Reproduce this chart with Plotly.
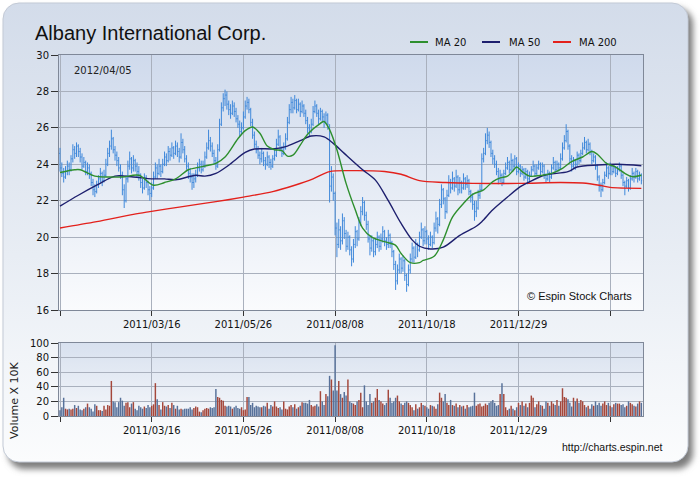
import base64
import plotly.graph_objects as go

# ---------------- data ----------------
title_text = "Albany International Corp."
date_label = "2012/04/05"
tick_days = [0, 50, 100, 150, 200, 250, 300]
tick_labels = ["", "2011/03/16", "2011/05/26", "2011/08/08", "2011/10/18", "2011/12/29", ""]

open_ = [
    24.6, 23.8, 23.5, 23.3, 23.6, 23.9, 23.7, 24.3, 24.8, 24.6,
    25.0, 24.7, 24.4, 23.9, 24.1, 23.6, 23.8, 23.5, 23.0, 22.6,
    22.5, 22.9, 23.2, 23.5, 23.1, 23.4, 24.0, 24.6, 25.0, 25.4,
    24.8, 24.5, 24.2, 23.8, 23.4, 22.6, 22.0, 23.2, 23.9, 24.3,
    23.8, 24.2, 23.9, 23.6, 23.4, 23.0, 22.7, 23.2, 23.0, 22.6,
    22.4, 22.7, 23.3, 23.8, 23.5, 23.9, 23.6, 24.0, 24.4, 24.2,
    24.7, 24.5, 24.9, 24.6, 25.0, 24.7, 24.4, 25.2, 24.8, 24.3,
    23.9, 23.5, 23.3, 23.0, 23.2, 23.4, 23.8, 24.0, 23.7, 23.9,
    24.4, 24.9, 25.3, 25.0, 24.6, 24.2, 23.9, 24.8, 26.2, 27.1,
    27.6, 27.8, 27.3, 27.0, 26.8, 27.2, 26.9, 26.5, 26.2, 25.8,
    26.0, 26.6, 27.2, 27.4, 27.0, 26.3, 25.6, 25.1, 24.8, 24.5,
    24.3, 24.6, 24.2, 24.0, 24.4, 24.1, 23.9, 24.3, 24.5, 25.1,
    25.5, 24.9, 24.6, 24.9, 25.4, 26.3, 27.0, 27.4, 27.1, 27.5,
    27.0, 27.3, 26.9, 27.2, 26.8, 26.4, 26.0, 25.8, 26.2, 26.9,
    27.2, 26.8, 26.5, 26.9, 26.6, 26.3, 26.7, 26.0, 22.8, 23.3,
    22.4, 20.5, 19.6, 20.4, 19.8, 20.9, 20.2, 19.5, 20.0, 19.3,
    18.8, 19.6, 20.3, 19.9, 20.8, 21.4, 21.9, 21.2, 20.7, 19.9,
    19.4, 19.8, 19.2, 19.6, 20.0, 19.5, 19.9, 20.3, 19.8, 19.6,
    20.1, 19.7, 19.2, 18.5, 17.6, 18.2, 18.8, 18.3, 18.7, 17.9,
    17.4, 18.2, 18.8, 19.4, 18.9, 19.6, 19.3, 20.0, 20.4, 19.8,
    20.3, 19.9, 19.6, 20.0, 19.7, 20.5, 21.0, 20.7, 21.8, 22.6,
    22.1, 21.4, 22.3, 23.0, 22.7, 23.2, 22.8, 23.3, 22.6, 23.0,
    22.7, 23.2, 22.9, 23.1, 22.5, 22.2, 21.8, 21.4, 21.6, 22.3,
    22.6, 24.3, 24.6, 25.3, 25.6, 25.2, 24.6, 24.3, 24.0, 23.6,
    23.2, 23.4, 23.0, 23.5, 23.8, 24.1, 23.7, 24.2, 23.9, 24.3,
    23.6, 23.9, 23.5, 23.7, 23.3, 23.6, 23.2, 23.4, 23.7, 23.9,
    23.5, 23.8, 24.0, 23.6, 23.9, 23.4, 23.2, 23.5, 23.3, 23.8,
    24.1, 23.7, 24.0, 23.8, 24.3, 24.9, 25.3, 25.8, 25.0, 24.3,
    23.9, 24.2, 24.0, 24.5, 24.2, 24.6, 24.9, 25.2, 24.8, 25.1,
    24.7, 24.2, 24.4, 23.9, 23.3, 22.8, 22.6, 23.0, 23.4, 23.8,
    23.5, 23.9, 23.6, 23.8, 23.5, 23.7, 23.9, 23.4, 23.0, 22.8,
    23.1, 22.7, 23.2, 23.5, 23.3, 23.6, 23.2, 23.4,
]
high = [
    24.9, 24.1, 23.8, 23.9, 24.2, 24.1, 24.5, 25.1, 25.0, 25.2,
    25.1, 24.9, 24.6, 24.4, 24.2, 24.1, 24.0, 23.6, 23.2, 22.9,
    23.1, 23.4, 23.8, 23.6, 23.7, 24.3, 24.9, 25.3, 25.9, 25.5,
    25.0, 24.7, 24.4, 24.0, 23.6, 22.9, 23.4, 24.2, 24.7, 24.4,
    24.5, 24.3, 24.1, 23.9, 23.5, 23.2, 23.5, 23.4, 23.1, 22.8,
    23.0, 23.6, 24.1, 24.0, 24.3, 24.0, 24.3, 24.7, 24.6, 25.0,
    24.9, 25.2, 25.0, 25.3, 25.2, 24.9, 25.7, 25.4, 25.0, 24.5,
    24.1, 23.8, 23.5, 23.5, 23.7, 24.1, 24.3, 24.2, 24.2, 24.7,
    25.2, 25.9, 25.5, 25.2, 24.8, 24.4, 25.1, 26.5, 27.4, 27.9,
    28.1, 28.0, 27.5, 27.3, 27.5, 27.4, 27.1, 26.7, 26.4, 26.3,
    26.9, 27.5, 27.7, 27.6, 27.1, 26.5, 25.8, 25.3, 25.0, 24.7,
    24.9, 24.7, 24.4, 24.7, 24.5, 24.3, 24.5, 24.8, 25.4, 25.9,
    25.6, 25.0, 25.2, 25.7, 26.6, 27.3, 27.7, 27.6, 27.8, 27.6,
    27.6, 27.4, 27.5, 27.3, 27.0, 26.6, 26.2, 26.5, 27.2, 27.5,
    27.3, 27.0, 27.1, 27.0, 26.8, 26.9, 26.8, 26.2, 23.9, 23.5,
    22.5, 20.8, 21.0, 20.6, 21.3, 21.1, 20.4, 20.3, 20.1, 19.5,
    19.9, 20.6, 20.4, 21.1, 21.7, 22.2, 22.0, 21.4, 20.9, 20.1,
    20.1, 19.9, 19.9, 20.3, 20.1, 20.2, 20.6, 20.4, 20.0, 20.4,
    20.2, 19.8, 19.3, 18.7, 18.5, 19.1, 18.9, 19.0, 18.8, 18.0,
    18.5, 19.1, 19.7, 19.5, 19.9, 19.7, 20.3, 20.8, 20.5, 20.6,
    20.4, 20.1, 20.3, 20.1, 20.8, 21.4, 21.1, 22.1, 22.9, 22.7,
    22.2, 22.6, 23.4, 23.2, 23.6, 23.3, 23.7, 23.4, 23.3, 23.1,
    23.5, 23.3, 23.4, 23.2, 22.6, 22.4, 22.0, 22.0, 22.6, 22.9,
    24.6, 24.9, 25.7, 26.0, 25.8, 25.3, 24.8, 24.5, 24.2, 23.8,
    23.7, 23.5, 23.7, 24.1, 24.4, 24.2, 24.6, 24.3, 24.5, 24.4,
    24.1, 24.0, 23.9, 23.8, 23.8, 23.7, 23.6, 23.9, 24.2, 24.0,
    24.0, 24.2, 24.1, 24.1, 24.0, 23.5, 23.7, 23.6, 24.0, 24.4,
    24.2, 24.2, 24.1, 24.6, 25.2, 25.6, 26.2, 25.9, 25.1, 24.5,
    24.4, 24.3, 24.7, 24.6, 24.8, 25.2, 25.5, 25.3, 25.4, 25.2,
    24.8, 24.6, 24.5, 24.0, 23.4, 23.0, 23.2, 23.6, 24.1, 23.9,
    24.1, 24.0, 24.0, 23.9, 23.9, 24.1, 24.0, 23.5, 23.1, 23.3,
    23.2, 23.4, 23.8, 23.6, 23.8, 23.7, 23.6, 23.5,
]
low = [
    23.6, 23.3, 23.0, 23.2, 23.4, 23.4, 23.6, 24.1, 24.3, 24.4,
    24.4, 24.1, 23.7, 23.8, 23.4, 23.4, 23.2, 22.8, 22.3, 22.2,
    22.4, 22.7, 23.0, 22.8, 23.0, 23.3, 23.9, 24.4, 24.8, 24.6,
    24.2, 23.9, 23.6, 23.2, 22.3, 21.6, 21.9, 23.0, 23.7, 23.5,
    23.6, 23.6, 23.3, 23.1, 22.7, 22.4, 22.6, 22.7, 22.3, 22.0,
    22.2, 22.6, 23.2, 23.2, 23.4, 23.3, 23.5, 23.9, 23.9, 24.1,
    24.2, 24.4, 24.3, 24.5, 24.4, 24.1, 24.3, 24.6, 24.1, 23.7,
    23.2, 23.0, 22.6, 22.7, 23.0, 23.3, 23.6, 23.5, 23.6, 23.8,
    24.3, 24.8, 24.7, 24.4, 24.0, 23.7, 23.8, 24.7, 26.1, 26.9,
    27.2, 27.0, 26.7, 26.5, 26.7, 26.6, 26.3, 26.0, 25.5, 25.6,
    25.9, 26.5, 27.0, 26.8, 26.1, 25.4, 24.9, 24.6, 24.3, 24.0,
    24.1, 23.9, 23.7, 23.9, 23.8, 23.7, 23.8, 24.2, 24.4, 25.0,
    24.7, 24.4, 24.5, 24.8, 25.3, 26.2, 26.8, 26.8, 27.0, 26.8,
    26.9, 26.6, 26.8, 26.6, 26.2, 25.7, 25.5, 25.7, 26.1, 26.8,
    26.6, 26.2, 26.4, 26.3, 26.0, 26.2, 25.9, 21.9, 22.5, 22.0,
    20.1, 18.9, 19.4, 19.3, 19.6, 19.9, 19.2, 19.3, 19.0, 18.4,
    18.6, 19.4, 19.5, 19.8, 20.6, 21.2, 20.9, 20.4, 19.7, 19.0,
    19.2, 18.9, 19.0, 19.4, 19.2, 19.3, 19.7, 19.5, 19.3, 19.4,
    19.4, 18.9, 18.2, 17.1, 17.4, 18.0, 18.0, 18.1, 17.6, 17.0,
    17.3, 18.0, 18.6, 18.6, 18.8, 18.9, 19.2, 19.9, 19.5, 19.6,
    19.6, 19.3, 19.5, 19.4, 19.6, 20.3, 20.2, 20.6, 21.6, 21.8,
    21.0, 21.3, 22.2, 22.4, 22.6, 22.5, 22.7, 22.3, 22.4, 22.4,
    22.6, 22.6, 22.7, 22.3, 21.9, 21.5, 20.9, 21.1, 21.5, 22.1,
    22.5, 24.1, 24.5, 25.1, 24.9, 24.4, 24.0, 23.8, 23.4, 22.9,
    23.0, 22.8, 22.9, 23.4, 23.7, 23.5, 23.6, 23.6, 23.8, 23.4,
    23.5, 23.3, 23.4, 23.1, 23.2, 22.9, 23.0, 23.3, 23.6, 23.3,
    23.4, 23.7, 23.4, 23.5, 23.2, 23.0, 23.1, 23.0, 23.2, 23.7,
    23.5, 23.6, 23.6, 23.7, 24.2, 24.8, 25.2, 24.8, 24.1, 23.6,
    23.8, 23.7, 23.9, 24.0, 24.1, 24.5, 24.8, 24.6, 24.7, 24.5,
    24.0, 24.1, 23.7, 23.1, 22.5, 22.2, 22.5, 22.9, 23.3, 23.2,
    23.4, 23.4, 23.5, 23.3, 23.4, 23.6, 23.2, 22.8, 22.3, 22.7,
    22.5, 22.6, 23.1, 23.0, 23.2, 23.0, 23.1, 22.9,
]
close = [
    23.8, 23.5, 23.3, 23.6, 23.9, 23.7, 24.3, 24.8, 24.6, 25.0,
    24.7, 24.4, 23.9, 24.1, 23.6, 23.8, 23.5, 23.0, 22.6, 22.5,
    22.9, 23.2, 23.5, 23.1, 23.4, 24.0, 24.6, 25.0, 25.4, 24.8,
    24.5, 24.2, 23.8, 23.4, 22.6, 22.0, 23.2, 23.9, 24.3, 23.8,
    24.2, 23.9, 23.6, 23.4, 23.0, 22.7, 23.2, 23.0, 22.6, 22.4,
    22.7, 23.3, 23.8, 23.5, 23.9, 23.6, 24.0, 24.4, 24.2, 24.7,
    24.5, 24.9, 24.6, 25.0, 24.7, 24.4, 25.2, 24.8, 24.3, 23.9,
    23.5, 23.3, 23.0, 23.2, 23.4, 23.8, 24.0, 23.7, 23.9, 24.4,
    24.9, 25.3, 25.0, 24.6, 24.2, 23.9, 24.8, 26.2, 27.1, 27.6,
    27.8, 27.3, 27.0, 26.8, 27.2, 26.9, 26.5, 26.2, 25.8, 26.0,
    26.6, 27.2, 27.4, 27.0, 26.3, 25.6, 25.1, 24.8, 24.5, 24.3,
    24.6, 24.2, 24.0, 24.4, 24.1, 23.9, 24.3, 24.5, 25.1, 25.5,
    24.9, 24.6, 24.9, 25.4, 26.3, 27.0, 27.4, 27.1, 27.5, 27.0,
    27.3, 26.9, 27.2, 26.8, 26.4, 26.0, 25.8, 26.2, 26.9, 27.2,
    26.8, 26.5, 26.9, 26.6, 26.3, 26.7, 26.2, 22.8, 23.3, 22.4,
    20.5, 19.6, 20.4, 19.8, 20.9, 20.2, 19.5, 20.0, 19.3, 18.8,
    19.6, 20.3, 19.9, 20.8, 21.4, 21.9, 21.2, 20.7, 19.9, 19.4,
    19.8, 19.2, 19.6, 20.0, 19.5, 19.9, 20.3, 19.8, 19.6, 20.1,
    19.7, 19.2, 18.5, 17.6, 18.2, 18.8, 18.3, 18.7, 17.9, 17.4,
    18.2, 18.8, 19.4, 18.9, 19.6, 19.3, 20.0, 20.4, 19.8, 20.3,
    19.9, 19.6, 20.0, 19.7, 20.5, 21.0, 20.7, 21.8, 22.6, 22.1,
    21.4, 22.3, 23.0, 22.7, 23.2, 22.8, 23.3, 22.6, 23.0, 22.7,
    23.2, 22.9, 23.1, 22.5, 22.2, 21.8, 21.4, 21.6, 22.3, 22.6,
    24.3, 24.6, 25.3, 25.6, 25.2, 24.6, 24.3, 24.0, 23.6, 23.2,
    23.4, 23.0, 23.5, 23.8, 24.1, 23.7, 24.2, 23.9, 24.3, 23.6,
    23.9, 23.5, 23.7, 23.3, 23.6, 23.2, 23.4, 23.7, 23.9, 23.5,
    23.8, 24.0, 23.6, 23.9, 23.4, 23.2, 23.5, 23.3, 23.8, 24.1,
    23.7, 24.0, 23.8, 24.3, 24.9, 25.3, 25.8, 25.0, 24.3, 23.9,
    24.2, 24.0, 24.5, 24.2, 24.6, 24.9, 25.2, 24.8, 25.1, 24.7,
    24.2, 24.4, 23.9, 23.3, 22.8, 22.6, 23.0, 23.4, 23.8, 23.5,
    23.9, 23.6, 23.8, 23.5, 23.7, 23.9, 23.4, 23.0, 22.8, 23.1,
    22.7, 23.2, 23.5, 23.3, 23.6, 23.2, 23.4, 23.1,
]
volume = [  # x 10K shares
    8, 12, 25, 10, 9, 10, 9, 10, 15, 11,
    14, 9, 8, 10, 12, 17, 12, 10, 6, 16,
    14, 8, 8, 7, 14, 9, 15, 14, 48, 20,
    19, 12, 19, 25, 21, 14, 18, 19, 12, 17,
    19, 10, 8, 14, 12, 10, 13, 11, 15, 12,
    14, 16, 45, 23, 15, 9, 19, 14, 13, 15,
    11, 18, 15, 10, 14, 9, 10, 9, 10, 10,
    10, 12, 9, 11, 13, 12, 6, 5, 8, 10,
    11, 10, 12, 11, 12, 37, 26, 25, 22, 21,
    14, 13, 14, 13, 10, 12, 14, 11, 10, 12,
    8, 9, 26, 26, 15, 18, 12, 14, 13, 12,
    12, 14, 13, 18, 10, 15, 13, 20, 13, 11,
    12, 9, 20, 10, 9, 13, 15, 12, 16, 10,
    12, 14, 19, 18, 18, 17, 22, 15, 13, 14,
    16, 13, 34, 20, 15, 30, 27, 55, 50, 35,
    97, 35, 48, 30, 25, 33, 28, 50, 20, 18,
    17, 15, 20, 22, 32, 12, 42, 20, 15, 30,
    18, 20, 25, 37, 22, 20, 17, 15, 18, 36,
    25, 18, 20, 25, 28, 20, 17, 15, 18, 20,
    18, 15, 12, 8, 16, 10, 12, 18, 15, 14,
    12, 10, 15, 14, 13, 10, 16, 32, 25, 20,
    30, 18, 15, 22, 15, 14, 17, 12, 15, 13,
    14, 10, 15, 12, 13, 14, 32, 14, 16, 17,
    13, 14, 17, 15, 18, 20, 22, 18, 14, 15,
    30, 45, 30, 12, 8, 10, 14, 10, 8, 12,
    18, 15, 20, 14, 17, 12, 18, 28, 25, 12,
    16, 20, 15, 14, 10, 20, 18, 14, 20, 17,
    15, 22, 14, 20, 38, 26, 25, 23, 18, 13,
    25, 20, 24, 18, 22, 20, 15, 12, 14, 10,
    16, 14, 20, 15, 18, 14, 17, 20, 15, 18,
    14, 12, 16, 18, 17, 17, 15, 16, 12, 14,
    20, 18, 16, 14, 13, 17, 20, 18,
]

# moving averages (trading-day index, value)
ma20_day = [0, 8, 11, 19, 27, 34, 43, 51, 57, 63, 70, 74, 81, 85, 90, 97, 101, 105,
            109, 113, 117, 121, 124, 127, 131, 135, 142, 144, 147, 151, 156, 161, 165,
            170, 177, 183, 186, 191, 196, 198, 204, 209, 214, 220, 225, 231, 236, 240,
            244, 247, 249, 252, 256, 263, 268, 274, 279, 285, 290, 293, 298, 303, 308,
            312, 317]
ma20 = [23.55, 23.7, 23.7, 23.35, 23.3, 23.3, 23.4, 22.85, 23.0, 23.2, 23.7, 23.8,
        23.95, 24.05, 24.4, 25.4, 25.85, 26.05, 25.7, 25.0, 24.8, 24.75, 24.45, 24.5,
        25.05, 25.65, 26.25, 26.35, 25.9, 24.8, 22.95, 21.5, 20.5, 20.0, 19.75, 19.55,
        19.1, 18.6, 18.6, 18.72, 18.95, 19.85, 21.1, 21.85, 22.35, 22.6, 23.05, 23.25,
        23.35, 23.65, 23.85, 23.6, 23.35, 23.4, 23.5, 23.78, 24.15, 24.4, 24.7, 24.55,
        24.05, 23.85, 23.5, 23.32, 23.4]
ma50_day = [0, 10, 20, 30, 40, 50, 57, 63, 74, 79, 85, 92, 101, 106, 117, 124, 131,
            137, 144, 149, 155, 165, 172, 179, 186, 192, 196, 202, 209, 218, 227, 230,
            236, 244, 251, 256, 264, 277, 282, 293, 304, 317]
ma50 = [21.7, 22.3, 22.85, 23.35, 23.3, 23.2, 23.2, 23.15, 23.4, 23.35, 23.5, 23.95,
        24.65, 24.84, 24.85, 25.0, 25.3, 25.55, 25.5, 25.15, 24.6, 23.7, 23.13, 22.0,
        20.75, 19.85, 19.5, 19.35, 19.45, 20.1, 20.6, 20.85, 21.5, 22.2, 22.77, 23.04,
        23.4, 23.6, 23.85, 23.96, 24.0, 23.92]
ma200_day = [0, 20, 40, 49, 65, 85, 100, 116, 128, 138, 147, 160, 177, 186, 196, 210,
             225, 250, 273, 285, 294, 300, 317]
ma200 = [20.5, 20.85, 21.25, 21.4, 21.65, 21.95, 22.2, 22.5, 22.85, 23.2, 23.6, 23.65,
         23.6, 23.45, 23.1, 23.0, 22.95, 22.95, 23.0, 22.97, 22.85, 22.73, 22.68]

# ---------------- figure ----------------
W, H = 700, 480
n = min(len(open_), len(high), len(low), len(close), len(volume))
days = list(range(n))

BAR = "#3f88da"
VOL_UP = "#a4473b"
VOL_DN = "#57719a"
vol_colors = [VOL_UP if close[i] >= open_[i] else VOL_DN for i in days]

def px_x(x):
    return x / W

def px_y(y):
    return 1 - y / H

PL, PR = 59, 643          # plot left / right (px)
MT, MB = 55, 310          # price plot top / bottom
VT, VB = 343, 416         # volume plot top / bottom

bg_svg = f"""<svg xmlns='http://www.w3.org/2000/svg' width='{W}' height='{H}' viewBox='0 0 {W} {H}'>
<defs>
<linearGradient id='pg' x1='0' y1='0' x2='0' y2='1'>
<stop offset='0' stop-color='#d3dcea'/><stop offset='0.55' stop-color='#e8edf4'/><stop offset='1' stop-color='#fbfcfd'/>
</linearGradient>
<linearGradient id='ag' x1='0' y1='0' x2='0' y2='1'>
<stop offset='0' stop-color='#cfdaec'/><stop offset='1' stop-color='#fafbfd'/>
</linearGradient>
<linearGradient id='vg' x1='0' y1='0' x2='0' y2='1'>
<stop offset='0' stop-color='#d8e1ef'/><stop offset='1' stop-color='#f4f6fa'/>
</linearGradient>
<filter id='sh' x='-5%' y='-5%' width='110%' height='110%'><feGaussianBlur stdDeviation='3'/></filter>
</defs>
<rect x='8' y='8' width='685' height='461' rx='16' fill='#7d7d7d' filter='url(#sh)'/>
<rect x='3' y='3' width='685' height='459' rx='16' fill='url(#pg)' stroke='#c3cad6' stroke-width='1'/>
<rect x='{PL}' y='{MT}' width='{PR-PL}' height='{MB-MT}' fill='url(#ag)'/>
<rect x='{PL}' y='{VT}' width='{PR-PL}' height='{VB-VT}' fill='url(#vg)'/>
</svg>"""
bg_uri = "data:image/svg+xml;base64," + base64.b64encode(bg_svg.encode()).decode()

fig = go.Figure()

fig.add_trace(go.Ohlc(
    x=days, open=open_[:n], high=high[:n], low=low[:n], close=close[:n],
    increasing=dict(line=dict(color=BAR, width=1)),
    decreasing=dict(line=dict(color=BAR, width=1)),
    tickwidth=0.45, xaxis="x", yaxis="y", showlegend=False,
))
for dd, vv, col in [(ma200_day, ma200, "#e3211c"), (ma50_day, ma50, "#1d1f6e"),
                    (ma20_day, ma20, "#2e8f2e")]:
    fig.add_trace(go.Scatter(
        x=dd, y=vv, mode="lines", xaxis="x", yaxis="y", showlegend=False,
        line=dict(color=col, width=1.4, shape="spline", smoothing=0.9),
    ))
fig.add_trace(go.Bar(
    x=days, y=volume[:n], marker=dict(color=vol_colors, line=dict(width=0)),
    xaxis="x2", yaxis="y2", showlegend=False,
))

tickfont = dict(family="DejaVu Sans", size=10, color="#111")
GRID = "#a9b0bd"
LINE = "#7f8898"
xcommon = dict(
    range=[-0.55, 317.9], tickmode="array", tickvals=tick_days, ticktext=tick_labels,
    ticks="outside", ticklen=5, tickcolor="#333", tickfont=tickfont,
    showgrid=True, gridcolor=GRID, gridwidth=1, zeroline=False,
    showline=True, linecolor=LINE, linewidth=1, mirror=True, automargin=False,
    domain=[px_x(PL), px_x(PR)], fixedrange=True,
)
ycommon = dict(
    ticks="outside", ticklen=7, tickcolor="#333", tickfont=tickfont,
    showgrid=True, gridcolor=GRID, gridwidth=1, zeroline=False, automargin=False,
    showline=True, linecolor=LINE, linewidth=1, mirror=True, fixedrange=True,
)

shapes = []
annotations = [
    dict(text=title_text, x=px_x(33), y=px_y(33), xref="paper", yref="paper",
         xanchor="left", yanchor="middle", showarrow=False,
         font=dict(family="Liberation Sans", size=20, color="#111")),
    dict(text=date_label, x=px_x(72), y=px_y(70), xref="paper", yref="paper",
         xanchor="left", yanchor="middle", showarrow=False,
         font=dict(family="DejaVu Sans", size=10, color="#222")),
    dict(text="© Espin Stock Charts", x=px_x(525), y=px_y(296), xref="paper", yref="paper",
         xanchor="left", yanchor="middle", showarrow=False,
         font=dict(family="Liberation Sans", size=11, color="#111")),
    dict(text="http://charts.espin.net", x=px_x(560), y=px_y(447), xref="paper", yref="paper",
         xanchor="left", yanchor="middle", showarrow=False,
         font=dict(family="Liberation Sans", size=10.5, color="#111")),
    dict(text="Volume X 10K", x=px_x(14), y=px_y(401), xref="paper", yref="paper",
         xanchor="center", yanchor="middle", showarrow=False, textangle=-90,
         font=dict(family="DejaVu Sans", size=11, color="#222")),
]
for x0, x1, tx, col, lab in [(410, 428, 433, "#2e8f2e", "MA 20"),
                             (482, 500, 507, "#1d1f6e", "MA 50"),
                             (553, 571, 577, "#e3211c", "MA 200")]:
    shapes.append(dict(type="line", xref="paper", yref="paper",
                       x0=px_x(x0), x1=px_x(x1), y0=px_y(42), y1=px_y(42),
                       line=dict(color=col, width=2)))
    annotations.append(dict(text=lab, x=px_x(tx), y=px_y(42), xref="paper", yref="paper",
                            xanchor="left", yanchor="middle", showarrow=False,
                            font=dict(family="DejaVu Sans", size=10, color="#111")))

fig.update_layout(
    width=W, height=H, margin=dict(l=0, r=0, t=0, b=0, pad=0, autoexpand=False),
    paper_bgcolor="white", plot_bgcolor="rgba(0,0,0,0)",
    bargap=0.2, hovermode=False,
    xaxis=dict(**xcommon, anchor="y", rangeslider=dict(visible=False)),
    yaxis=dict(**ycommon, range=[16, 30], dtick=2, tick0=16,
               domain=[px_y(MB), px_y(MT)], anchor="x"),
    xaxis2=dict(**xcommon, anchor="y2"),
    yaxis2=dict(**ycommon, range=[0, 100], dtick=20, tick0=0,
                domain=[px_y(VB), px_y(VT)], anchor="x2"),
    images=[dict(source=bg_uri, xref="paper", yref="paper", x=0, y=1, sizex=1, sizey=1,
                 sizing="stretch", xanchor="left", yanchor="top", layer="below")],
    shapes=shapes, annotations=annotations,
)

fig.write_html("out.html", config={"displayModeBar": False, "staticPlot": True},
               post_script="document.body.style.margin='0px';")
